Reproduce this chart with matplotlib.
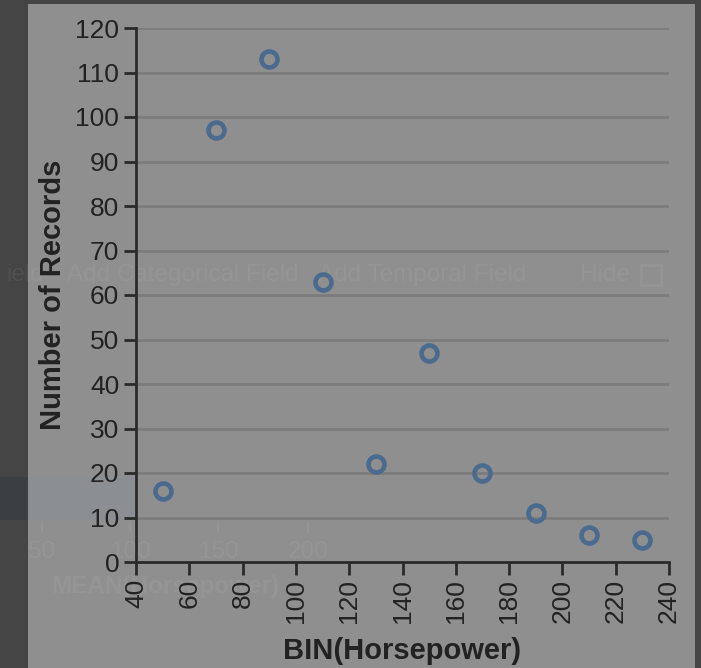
import matplotlib
matplotlib.use("Agg")
import matplotlib.pyplot as plt
from matplotlib.patches import Rectangle

plt.rcParams['font.family'] = ['Liberation Sans', 'DejaVu Sans']

# binned horsepower (bin centres) and record counts
bin_centers = [50, 70, 90, 110, 130, 150, 170, 190, 210, 230]
counts = [16, 97, 113, 63, 22, 47, 20, 11, 6, 5]
x_ticks = list(range(40, 241, 20))
y_ticks = list(range(0, 121, 10))

W, H = 701, 668
fig = plt.figure(figsize=(W / 100, H / 100), dpi=100)
fig.patch.set_facecolor('#454545')

# dimmed panel behind the chart (modal overlay look)
fig.patches.append(Rectangle((28 / W, 0), (695 - 28) / W, (668 - 4) / H,
                             transform=fig.transFigure, facecolor='#8f8f8f',
                             edgecolor='none', zorder=0))
# faint highlighted row band from the page underneath
fig.patches.append(Rectangle((0, (668 - 520) / H), 28 / W, 43 / H,
                             transform=fig.transFigure, facecolor='#3b3f44',
                             edgecolor='none', zorder=1))
fig.patches.append(Rectangle((28 / W, (668 - 520) / H), 108 / W, 43 / H,
                             transform=fig.transFigure, facecolor='#8b8e92',
                             edgecolor='none', zorder=1))

# ghost text bleeding through from the page underneath
ghost = dict(transform=fig.transFigure, color='white', alpha=0.06,
             fontsize=17.5, va='center', zorder=2)
y_row = 1 - 275 / H
fig.text(44 / W, y_row, 'ield', ha='right', **ghost)
fig.text(67 / W, y_row, 'Add Categorical Field', ha='left', **ghost)
fig.text(318 / W, y_row, 'Add Temporal Field', ha='left', **ghost)
fig.text(580 / W, y_row, 'Hide', ha='left', **ghost)
fig.patches.append(Rectangle((641 / W, 1 - 285 / H), 20 / W, 20 / H,
                             transform=fig.transFigure, facecolor='none',
                             edgecolor='white', alpha=0.06, lw=2, zorder=2))
for px, lab in [(42, '50'), (130, '100'), (218, '150'), (308, '200')]:
    fig.text(px / W, 1 - 552 / H, lab, ha='center', **ghost)
    fig.lines.append(plt.Line2D([px / W, px / W], [1 - 522 / H, 1 - 532 / H],
                                transform=fig.transFigure, color='white',
                                alpha=0.06, lw=1.5, zorder=2))
fig.text(165 / W, 1 - 587 / H, 'MEAN(Horsepower)', ha='center', fontweight='bold', **ghost)

ax = fig.add_axes([136 / W, (668 - 562) / H, (669 - 136) / W, (562 - 28) / H])
ax.set_facecolor('none')
ax.set_zorder(3)

ax.plot(bin_centers, counts, linestyle='none', marker='o', markersize=11.5,
        markerfacecolor='none', markeredgecolor='#4a6a8e', markeredgewidth=3.3,
        zorder=4, clip_on=False)

ax.set_xlim(40, 240)
ax.set_ylim(0, 120)
ax.set_xticks(x_ticks)
ax.set_yticks(y_ticks)
ax.set_xticklabels([str(t) for t in x_ticks], rotation=90)
ax.grid(axis='y', color='#7c7c7c', linewidth=2)
ax.grid(axis='x', visible=False)
ax.set_axisbelow(True)

for side in ['top', 'right']:
    ax.spines[side].set_visible(False)
for side in ['left', 'bottom']:
    ax.spines[side].set_color('#2b2b2b')
    ax.spines[side].set_linewidth(2)

ax.tick_params(axis='both', colors='#2b2b2b', labelcolor='#222222',
               labelsize=19, length=9, width=2, pad=3)

ax.set_xlabel('BIN(Horsepower)', fontsize=21, fontweight='bold', color='#222222', labelpad=10)
ax.set_ylabel('Number of Records', fontsize=21, fontweight='bold', color='#222222', labelpad=6)

fig.savefig('out.png', dpi=100, facecolor=fig.get_facecolor())
